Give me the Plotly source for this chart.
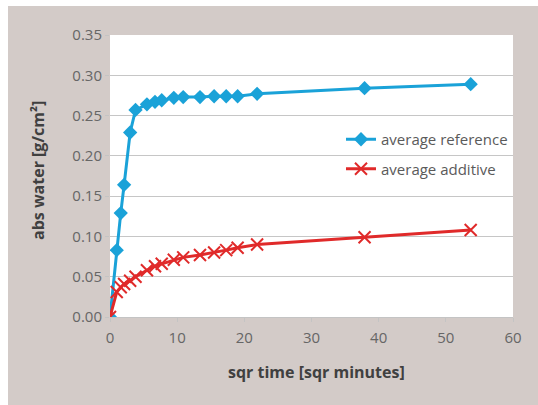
import plotly.graph_objects as go

# sqr time [sqr minutes]
x_ref = [0, 1.0, 1.6, 2.1, 3.0, 3.8, 5.5, 6.7, 7.7, 9.5, 10.9, 13.4, 15.5, 17.3, 19.0, 21.9, 37.9, 53.7]
y_ref = [0, 0.083, 0.129, 0.164, 0.229, 0.257, 0.264, 0.267, 0.269, 0.272, 0.273, 0.273, 0.274, 0.274, 0.274, 0.277, 0.284, 0.289]

x_add = [0, 1.0, 1.6, 2.1, 3.0, 3.8, 5.5, 6.7, 7.7, 9.5, 10.9, 13.4, 15.5, 17.3, 19.0, 21.9, 37.9, 53.7]
y_add = [0, 0.031, 0.037, 0.041, 0.045, 0.050, 0.058, 0.063, 0.066, 0.071, 0.074, 0.077, 0.080, 0.083, 0.086, 0.090, 0.099, 0.108]

x_ticks = [0, 10, 20, 30, 40, 50, 60]
y_ticks = [0.00, 0.05, 0.10, 0.15, 0.20, 0.25, 0.30, 0.35]

x_title = "sqr time [sqr minutes]"
y_title = "abs water [g/cm²]"

BLUE = "#1aa2d8"
RED = "#e02a2a"
BG = "#d3cbc8"
FONT = "Open Sans"

fig = go.Figure()
fig.add_trace(go.Scatter(
    x=x_ref, y=y_ref, name="average reference", mode="lines+markers",
    line=dict(color=BLUE, width=3),
    marker=dict(symbol="diamond", size=11, color=BLUE),
    legendgroup="a",
))
fig.add_trace(go.Scatter(
    x=x_add, y=y_add, name="average additive", mode="lines+markers",
    line=dict(color=RED, width=3),
    marker=dict(symbol="x-thin", size=12, color=RED, line=dict(color=RED, width=2)),
    legendgroup="b",
))

W, H = 538, 405
L, R, T, B = 110, 25, 35, 88
pw, ph = W - L - R, H - T - B


def px(p):
    return (p - L) / pw


def py(q):
    return (H - B - q) / ph


shapes = [
    dict(type="rect", xref="paper", yref="paper", x0=px(-5), x1=px(W + 5), y0=py(6), y1=py(-5),
         fillcolor="white", line=dict(width=0), layer="above"),
    dict(type="rect", xref="paper", yref="paper", x0=px(-5), x1=px(8), y0=py(H + 5), y1=py(-5),
         fillcolor="white", line=dict(width=0), layer="above"),
]

title_font = dict(family=FONT, size=16, color="#404040", weight="bold")
annotations = [
    dict(text=x_title, xref="paper", yref="paper", x=px(316), y=py(372),
         xanchor="center", yanchor="middle", showarrow=False, font=title_font),
    dict(text=y_title, xref="paper", yref="paper", x=px(38), y=py(171),
         xanchor="center", yanchor="middle", showarrow=False, textangle=-90, font=title_font),
]

fig.update_layout(
    width=W, height=H,
    margin=dict(l=L, r=R, t=T, b=B),
    paper_bgcolor=BG,
    plot_bgcolor="white",
    font=dict(family=FONT, size=15, color="#666666"),
    showlegend=True,
    legend=dict(
        x=px(341), y=py(123), xanchor="left", yanchor="top",
        bgcolor="rgba(0,0,0,0)", font=dict(size=15, color="#5a5a5a"),
        tracegroupgap=7, traceorder="grouped",
    ),
    shapes=shapes,
    annotations=annotations,
    xaxis=dict(
        range=[0, 60], tickvals=x_ticks, ticktext=[str(v) for v in x_ticks],
        showgrid=False, zeroline=False, showline=True, linecolor="#c4c4c4", linewidth=1,
        ticks="outside", ticklen=4, tickcolor="#c4c4c4", ticklabelstandoff=3,
        tickfont=dict(size=15, color="#666666"),
    ),
    yaxis=dict(
        range=[0, 0.35], tickvals=y_ticks, ticktext=["%.2f" % v for v in y_ticks],
        showgrid=True, gridcolor="#c6c6c6", gridwidth=1, zeroline=False, showline=False,
        ticks="outside", ticklen=4, tickcolor="#c4c4c4",
        tickfont=dict(size=15, color="#666666"),
    ),
)

fig.write_html(
    "out.html",
    config={"displayModeBar": False},
    post_script="document.body.style.margin='0';document.body.style.overflow='hidden';",
)
